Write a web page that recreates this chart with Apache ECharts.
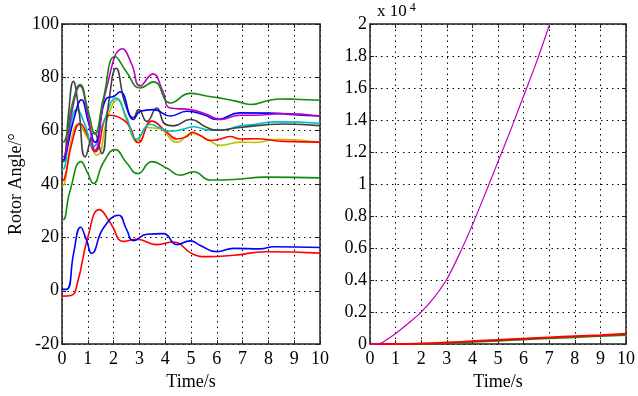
<!DOCTYPE html>
<html><head><meta charset="utf-8">
<script src="https://cdn.jsdelivr.net/npm/echarts@6/dist/echarts.min.js"></script>
<style>html,body{margin:0;padding:0;background:#fff}#c{width:638px;height:396px}</style>
</head><body><div id="c"></div>
<script>
// ---- Left panel data (time s, rotor angle deg) ----
const gTopT = [0,0.1,0.4,0.7,1.0,1.28,1.6,2.06,2.5,3.03,3.55,4.2,4.97,5.6,6.14,6.78,7.3,8.0,8.47,9.0,10];
const gTopV = [55.7,56,70,77.3,68,58.8,72,87.8,82,76,78.3,70.4,74,73,72.2,71,69.8,71.3,71.9,71.8,71.4];
const magT = [0,0.1,0.4,0.7,1.0,1.28,1.7,2.35,2.7,3.03,3.52,3.9,4.2,4.97,5.62,6.14,6.9,7.5,8.5,10];
const magV = [50.2,50.5,68,76.8,66,52.7,75,90.7,85,76.8,81.3,75,68.5,67.9,66.1,64.2,65.8,65.8,66.4,65.5];
const bluUT = [0,0.1,0.45,0.76,1.0,1.28,1.73,2.0,2.25,2.77,3.03,3.55,4.2,4.84,5.5,6.0,6.9,8.07,9,10];
const bluUV = [49,49.5,64,71.6,64,55.7,72.2,72.8,74.6,64.2,67.3,67.9,65.5,67.3,66,64.2,66.7,66.6,66,65.5];
const grayT = [0,0.1,0.25,0.44,0.65,0.9,1.25,1.54,1.8,2.1,2.45,2.77,2.97,3.29,3.67,4.0,4.32,4.97,5.62,6.0,6.9,8.6,10];
const grayV = [48.4,49,66,78.5,68,50.2,59.4,51.4,70,83.4,70,64.9,67.9,63.5,68.5,62.4,61.8,64.2,61.2,60.2,61.2,62.5,61.9];
const cyanT = [0,0.1,0.3,0.57,0.9,1.2,1.6,2.1,2.5,2.9,3.42,3.8,4.2,4.71,5.1,5.75,6.14,6.9,7.3,8.35,10];
const cyanV = [45.6,46,60,67.9,62,53.9,63,72.2,65,56.9,62.4,61,59.8,60.6,61.5,60.2,60.2,61.8,62.2,63.3,62.8];
const redUT = [0,0.1,0.4,0.7,1.0,1.28,1.86,2.51,2.96,3.48,4.07,4.45,4.84,5.04,5.36,5.75,6.14,6.52,6.9,7.5,8.6,10];
const redUV = [41.1,42,56,62.7,58,52.1,65.8,63,55.5,63.6,59.4,56.9,57.8,59.4,58.2,56.3,56.9,57.8,56.9,57,56,55.7];
const yelT = [0,0.1,0.35,0.63,0.95,1.35,1.8,2.15,2.5,2.92,3.29,3.8,4.45,5.04,5.6,6.14,6.9,7.5,8.35,10];
const yelV = [39.5,40,56,62.4,58,50.8,66,71.6,64,56.1,61.2,60.6,55.7,59.0,57,54.5,55.7,55.6,56.8,55.7];
const gLowT = [0,0.05,0.3,0.74,1.0,1.22,1.6,2.06,2.5,2.94,3.48,4.07,4.58,5.1,5.75,6.65,7.9,10];
const gLowV = [26.7,26.7,37,48.4,44,40.2,48,52.9,48,43.9,48.4,45.9,43.3,44.6,41.5,41.7,42.6,42.3];
const bluLT = [0,0.2,0.45,0.72,0.95,1.15,1.6,2.19,2.5,2.77,3.29,3.93,4.45,4.97,5.36,6.0,6.65,7.7,8.2,10];
const bluLV = [0.5,0.6,14,23.8,19,14,23.4,28.3,23,18.8,21.2,21.4,17.3,18.7,17,14.6,15.9,15.7,16.5,16.2];
const redLT = [0,0.35,0.6,1.0,1.45,1.9,2.38,2.9,3.68,4.3,5.1,5.6,6.65,7.9,10];
const redLV = [-2,-1.8,3,20,30.4,25,18.5,19.3,17.3,18.3,13.6,12.8,13.3,14.6,14.1];

// ---- Right panel data (time s, value x 10^4) ----
const rMagT = [0,0.3,0.5,1,1.5,2,2.5,3,3.5,4,4.5,5,5.5,6,6.5,7.02];
const rMagV = [0,0.002,0.012,0.066,0.13,0.2,0.29,0.405,0.565,0.745,0.94,1.14,1.34,1.55,1.76,2.0];
const rRedT = [0,1,2,3,4,5,6,7,8,9,10];
const rRedV = [0,0,0.003,0.01,0.018,0.026,0.034,0.042,0.049,0.056,0.064];
const rGrnT = [0,2,3,4,5,6,7,8,9,10];
const rGrnV = [0,0,0.006,0.013,0.02,0.028,0.035,0.042,0.049,0.056];

const xTicksMin = 0, xTicksMax = 10, xTickStep = 1;
const yLeftMin = -20, yLeftMax = 100, yLeftStep = 20;
const yRightMin = 0, yRightMax = 2, yRightStep = 0.2;

const FONT = '"Liberation Serif","Times New Roman",serif';
const zip = (t, v) => t.map((x, i) => [x, v[i]]);

function xAxis(gi, pos, main) {
  return {
    type: 'value', gridIndex: gi, position: pos, min: xTicksMin, max: xTicksMax, interval: xTickStep,
    axisLine: { show: true, onZero: false, lineStyle: { color: '#222', width: 1.5 } },
    axisTick: { show: true, inside: true, length: 4, lineStyle: { color: '#222' } },
    axisLabel: { show: main, color: '#000', fontFamily: FONT, fontSize: 18, margin: 6 },
    splitLine: { show: main, lineStyle: { color: '#000', type: [1.5, 4], width: 1 } },
    name: main ? 'Time/s' : '', nameLocation: 'middle', nameGap: 27,
    nameTextStyle: { color: '#000', fontFamily: FONT, fontSize: 18 }
  };
}
function yAxis(gi, pos, main, min, max, step, name) {
  return {
    type: 'value', gridIndex: gi, position: pos, min: min, max: max, interval: step,
    axisLine: { show: true, onZero: false, lineStyle: { color: '#222', width: 1.5 } },
    axisTick: { show: true, inside: true, length: 4, lineStyle: { color: '#222' } },
    axisLabel: { show: main, color: '#000', fontFamily: FONT, fontSize: 18, margin: 3,
      formatter: v => String(+v.toFixed(1)) },
    splitLine: { show: main, lineStyle: { color: '#000', type: [1.5, 4], width: 1 } },
    name: name || '', nameLocation: 'middle', nameGap: 37,
    nameTextStyle: { color: '#000', fontFamily: FONT, fontSize: 18 }
  };
}
function line(xi, yi, t, v, color, w, sm) {
  return { type: 'line', xAxisIndex: xi, yAxisIndex: yi, data: zip(t, v), smooth: sm || 0.5,
    showSymbol: false, symbol: 'none', lineStyle: { color: color, width: w || 1.6 }, animation: false };
}

const chart = echarts.init(document.getElementById('c'), null, { renderer: 'canvas' });
chart.setOption({
  backgroundColor: '#fff',
  animation: false,
  grid: [
    { left: 62, top: 24, width: 258, height: 328 },
    { left: 370, top: 24, width: 257, height: 328 }
  ],
  xAxis: [xAxis(0, 'bottom', true), xAxis(0, 'top', false), xAxis(1, 'bottom', true), xAxis(1, 'top', false)],
  yAxis: [
    yAxis(0, 'left', true, yLeftMin, yLeftMax, yLeftStep, 'Rotor Angle/\u00B0'),
    yAxis(0, 'right', false, yLeftMin, yLeftMax, yLeftStep),
    yAxis(1, 'left', true, yRightMin, yRightMax, yRightStep),
    yAxis(1, 'right', false, yRightMin, yRightMax, yRightStep)
  ],
  graphic: [{
    type: 'text', left: 377, top: 2,
    style: { rich: { a: { fontFamily: FONT, fontSize: 17, fill: '#000' }, b: { fontFamily: FONT, fontSize: 12, fill: '#000', verticalAlign: 'top', padding: [0, 0, 8, 0] } },
      text: '{a|x 10}{b| 4}' }
  }],
  series: [
    line(0, 0, gLowT, gLowV, '#128a12'),
    line(0, 0, redLT, redLV, '#ff0000'),
    line(0, 0, bluLT, bluLV, '#0000ff'),
    line(0, 0, yelT, yelV, '#bfbf00'),
    line(0, 0, redUT, redUV, '#ff0000'),
    line(0, 0, cyanT, cyanV, '#00bfbf'),
    line(0, 0, grayT, grayV, '#404040'),
    line(0, 0, bluUT, bluUV, '#0000ff'),
    line(0, 0, magT, magV, '#bf00bf'),
    line(0, 0, gTopT, gTopV, '#128a12'),
    line(2, 2, rGrnT, rGrnV, '#128a12', 1.6),
    line(2, 2, rRedT, rRedV, '#ff0000', 2),
    line(2, 2, rMagT, rMagV, '#bf00bf', 1.2, 0.3)
  ]
});
</script></body></html>
